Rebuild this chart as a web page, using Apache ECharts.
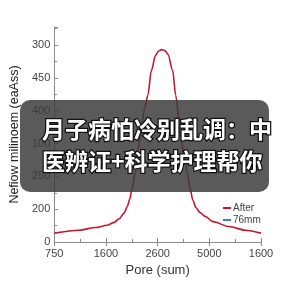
<!DOCTYPE html>
<html>
<head>
<meta charset="utf-8">
<script src="https://cdn.jsdelivr.net/npm/echarts@6/dist/echarts.min.js"></script>
<style>
  html, body { margin: 0; padding: 0; background: #fff; }
  #chart { width: 288px; height: 288px; }
</style>
</head>
<body>
<div id="chart"></div>
<script>
// tick labels (as printed on the picture)
var xLabels = ['750', '1600', '2600', '5000', '1600'];
var yLabels = ['0', '200', '250', '100', '400', '450', '300'];

// curve, in axis units
var curveX = [0, 0.48, 0.80, 1.02, 1.15, 1.26, 1.35, 1.41, 1.46, 1.50, 1.57, 1.62, 1.68, 1.75, 1.81, 1.88,
              1.96, 2.02, 2.08, 2.14, 2.20, 2.29, 2.35, 2.44, 2.52, 2.58, 2.63, 2.68, 2.74, 2.82, 2.92,
              3.07, 3.38, 3.70, 4.0];
var curveY = [0.27, 0.36, 0.44, 0.51, 0.59, 0.71, 0.88, 1.07, 1.30, 1.58, 2.12, 2.80, 3.41, 4.08, 4.47, 5.23,
              5.69, 5.82, 5.86, 5.83, 5.72, 5.23, 4.47, 3.25, 2.55, 2.05, 1.62, 1.28, 1.05, 0.90, 0.78,
              0.62, 0.47, 0.36, 0.27];

var seriesNames = ['After', '76mm'];
var seriesColors = ['#c3172c', '#2a86c4'];

var titleLines = ['月子病怕冷别乱调：中', '医辨证+科学护理帮你'];

var chart = echarts.init(document.getElementById('chart'));

var afterData = curveX.map(function (x, i) { return [x, curveY[i]]; });

var axisColor = '#8c8c8c';
var labelFont = 'Liberation Sans';

var option = {
    backgroundColor: '#fff',
    animation: false,
    grid: { left: 40, right: 27, top: 27, bottom: 46 },
    legend: {
        orient: 'vertical',
        left: 218,
        top: 198,
        itemWidth: 8,
        itemHeight: 2,
        itemGap: 2,
        icon: 'rect',
        textStyle: { fontSize: 10, color: '#444', fontFamily: labelFont, padding: [0, 0, 0, -3] },
        data: seriesNames
    },
    xAxis: [{
        type: 'value',
        min: 0, max: 4, interval: 1,
        name: 'Pore (sum)',
        nameLocation: 'middle',
        nameGap: 20,
        nameTextStyle: { fontSize: 13, color: '#333', fontFamily: labelFont },
        axisLine: { lineStyle: { color: axisColor } },
        axisTick: { inside: true, length: 4, lineStyle: { color: axisColor } },
        minorTick: { show: true, splitNumber: 2, length: 3, lineStyle: { color: axisColor } },
        splitLine: { show: false },
        axisLabel: {
            fontSize: 11, color: '#444', fontFamily: labelFont, margin: 6,
            formatter: function (v) { return xLabels[Math.round(v)] || ''; }
        }
    }, {
        type: 'value',
        position: 'top',
        min: 0, max: 4, interval: 1,
        axisLine: { show: true, lineStyle: { color: axisColor } },
        axisTick: { inside: true, length: 4, lineStyle: { color: axisColor } },
        splitLine: { show: false },
        axisLabel: { show: false }
    }],
    yAxis: [{
        type: 'value',
        min: 0, max: 6.55, interval: 1,
        name: 'Nefiow milinoem (eaAss)',
        nameLocation: 'middle',
        nameGap: 22,
        nameTextStyle: { fontSize: 12.5, color: '#222', fontFamily: labelFont },
        axisLine: { show: true, lineStyle: { color: axisColor } },
        axisTick: { inside: true, length: 4, lineStyle: { color: axisColor } },
        minorTick: { show: true, splitNumber: 2, length: 3, lineStyle: { color: axisColor } },
        splitLine: { show: false },
        axisLabel: {
            fontSize: 11, color: '#444', fontFamily: labelFont, margin: 4,
            showMaxLabel: false,
            formatter: function (v) {
                return Math.abs(v - Math.round(v)) < 1e-6 ? (yLabels[Math.round(v)] || '') : '';
            }
        }
    }, {
        type: 'value',
        position: 'right',
        min: 0, max: 6.55,
        axisLine: { show: true, lineStyle: { color: axisColor } },
        axisTick: { show: false },
        splitLine: { show: false },
        axisLabel: { show: false }
    }],
    series: [{
        name: seriesNames[0],
        type: 'line',
        data: afterData,
        smooth: 0.3,
        smoothMonotone: 'x',
        showSymbol: false,
        lineStyle: { color: seriesColors[0], width: 1.6 },
        itemStyle: { color: seriesColors[0] }
    }, {
        name: seriesNames[1],
        type: 'line',
        data: [],
        showSymbol: false,
        lineStyle: { color: seriesColors[1], width: 1.6 },
        itemStyle: { color: seriesColors[1] }
    }],
    graphic: [{
        type: 'rect',
        shape: { x: 20, y: 100, width: 249, height: 92, r: 10 },
        style: { fill: 'rgba(58,58,58,0.84)' },
        z: 100
    }, {
        type: 'text',
        x: 42,
        y: 129,
        style: {
            text: titleLines[0],
            font: 'bold 23px "Noto Sans CJK SC"',
            fill: '#fff',
            stroke: '#111',
            lineWidth: 2.5,
            verticalAlign: 'middle'
        },
        z: 101
    }, {
        type: 'text',
        x: 42,
        y: 161,
        style: {
            text: titleLines[1],
            font: 'bold 23px "Noto Sans CJK SC"',
            fill: '#fff',
            stroke: '#111',
            lineWidth: 2.5,
            verticalAlign: 'middle'
        },
        z: 101
    }]
};

chart.setOption(option);

window.addEventListener('resize', function () {
    chart.resize();
});
</script>
</body>
</html>
